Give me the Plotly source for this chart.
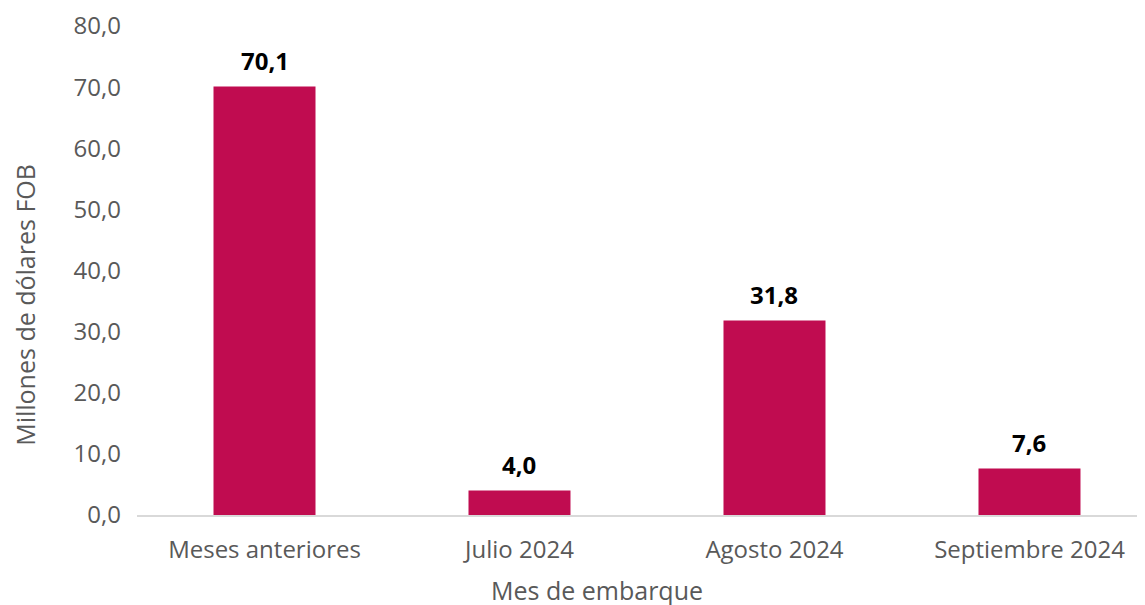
import plotly.graph_objects as go

categories = ["Meses anteriores", "Julio 2024", "Agosto 2024", "Septiembre 2024"]
values = [70.1, 4.0, 31.8, 7.6]
y_ticks = [0, 10, 20, 30, 40, 50, 60, 70, 80]

bar_color = "#C00C50"
tick_color = "#595959"
font_family = "Open Sans, Noto Sans, sans-serif"

fig = go.Figure()
fig.add_trace(go.Bar(
    x=categories, y=values,
    marker=dict(color=bar_color, line=dict(width=0)),
    width=0.4,
))

# value labels above bars
for c, v in zip(categories, values):
    fig.add_annotation(
        x=c, y=v, text=f"<b>{v:.1f}</b>".replace(".", ","),
        showarrow=False, yanchor="bottom", yshift=8,
        font=dict(family=font_family, size=24, color="#000000"),
    )

# axis titles
fig.add_annotation(
    xref="paper", yref="paper", x=0.456, y=-0.153,
    text="Mes de embarque", showarrow=False,
    xanchor="center", yanchor="middle",
    font=dict(family=font_family, size=25, color=tick_color),
)
fig.add_annotation(
    xref="paper", yref="paper", x=-0.111, y=0.43,
    text="Millones de dólares FOB", showarrow=False, textangle=-90,
    xanchor="center", yanchor="middle",
    font=dict(family=font_family, size=25, color=tick_color),
)

fig.update_layout(
    width=1145, height=605,
    paper_bgcolor="white", plot_bgcolor="white",
    margin=dict(l=129, r=8, t=18, b=98),
    font=dict(family=font_family, color=tick_color, size=24),
    showlegend=False,
    xaxis=dict(
        range=[-0.5, 3.453], automargin=False,
        showline=True, linecolor="#D9D9D9", linewidth=2,
        ticks="", tickfont=dict(size=24, color=tick_color),
        ticklabelstandoff=12,
    ),
    yaxis=dict(
        range=[0, 80], automargin=False,
        tickvals=y_ticks,
        ticktext=[f"{v:.1f}".replace(".", ",") for v in y_ticks],
        showgrid=False, zeroline=False, showline=False,
        tickfont=dict(size=24, color=tick_color),
        ticklabelstandoff=15,
        ticklabeloverflow="allow",
    ),
)

fig.write_html("out.html")
